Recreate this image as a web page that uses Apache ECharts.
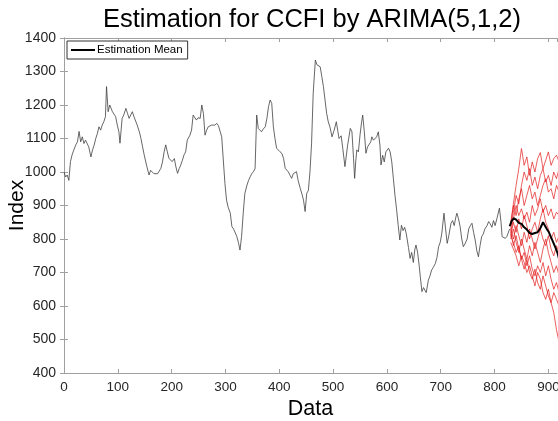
<!DOCTYPE html>
<html>
<head>
<meta charset="utf-8">
<script src="https://cdn.jsdelivr.net/npm/echarts@6/dist/echarts.min.js"></script>
<style>
  html, body { margin: 0; padding: 0; background: #fff; }
  #chart { width: 558px; height: 421px; }
</style>
</head>
<body>
<div id="chart"></div>
<script>
// observed CCFI (day, index)
const obsDay = [0, 3, 6, 9, 12, 15, 18, 22, 25, 28, 31, 34, 37, 40, 43, 46, 50, 53, 56, 59,
  62, 65, 68, 71, 74, 77, 79, 82, 85, 87, 90, 93, 96, 99, 102, 104, 108, 111, 115, 118,
  121, 124, 127, 130, 133, 136, 140, 143, 146, 149, 152, 154, 158, 161, 164, 167, 170, 174, 177, 180,
  183, 186, 189, 192, 195, 198, 201, 205, 208, 211, 214, 217, 220, 223, 226, 229, 231, 234, 237, 240,
  243, 246, 249, 253, 256, 259, 262, 265, 268, 271, 274, 277, 280, 284, 287, 290, 293, 296, 299, 302,
  305, 309, 312, 315, 318, 321, 324, 327, 330, 333, 336, 340, 343, 346, 349, 352, 355, 358, 361, 364,
  367, 370, 374, 377, 380, 383, 386, 389, 392, 395, 398, 401, 405, 408, 411, 414, 417, 420, 423, 426,
  429, 432, 435, 439, 442, 445, 448, 451, 454, 457, 460, 463, 467, 470, 473, 476, 479, 482, 485, 488,
  491, 494, 498, 502, 506, 509, 511, 515, 518, 522, 527, 532, 535, 538, 540, 542, 544, 547, 550, 553,
  555, 558, 561, 564, 567, 570, 572, 575, 578, 581, 584, 587, 589, 592, 595, 598, 601, 603, 606, 609,
  612, 615, 618, 621, 624, 627, 630, 633, 636, 640, 643, 646, 649, 652, 654, 657, 660, 662, 665, 668,
  671, 673, 677, 680, 683, 686, 690, 693, 696, 699, 702, 706, 709, 712, 715, 719, 722, 725, 728, 730,
  733, 736, 739, 742, 745, 749, 752, 755, 758, 761, 764, 767, 770, 773, 776, 779, 782, 786, 789, 792,
  795, 798, 801, 805, 809, 812, 814, 817, 820, 823, 826, 828];
const obsIndex = [1000, 985, 991, 975, 1031, 1051, 1065, 1081, 1090, 1121, 1090, 1105, 1085, 1095, 1100, 1075, 1045, 1066, 1080, 1100,
  1115, 1135, 1125, 1140, 1150, 1165, 1255, 1180, 1200, 1195, 1180, 1185, 1165, 1140, 1120, 1086, 1160, 1170, 1190, 1175,
  1160, 1170, 1180, 1165, 1170, 1140, 1120, 1100, 1075, 1051, 1030, 1016, 991, 1005, 1000, 995, 991, 995, 1000, 1011,
  1030, 1060, 1081, 1060, 1041, 1045, 1031, 1040, 1015, 996, 1010, 1021, 1035, 1051, 1060, 1095, 1096, 1110, 1125, 1170,
  1165, 1155, 1162, 1160, 1200, 1175, 1110, 1125, 1135, 1130, 1140, 1135, 1140, 1145, 1138, 1135, 1105, 1036, 966, 916,
  895, 877, 837, 830, 827, 808, 790, 767, 808, 877, 936, 961, 975, 986, 995, 1001, 1010, 1170, 1130, 1125,
  1120, 1128, 1135, 1160, 1195, 1215, 1205, 1135, 1100, 1071, 1075, 1061, 1055, 1040, 1011, 1015, 1000, 990, 981, 995,
  990, 1001, 975, 951, 935, 916, 882, 936, 945, 1000, 1086, 1235, 1334, 1320, 1322, 1314, 1285, 1255, 1215, 1175,
  1150, 1135, 1105, 1125, 1150, 1120, 1100, 1108, 1070, 1016, 1080, 1130, 1120, 1040, 981, 1030, 1066, 1060, 1110, 1150,
  1170, 1120, 1056, 1075, 1070, 1090, 1105, 1095, 1090, 1105, 1120, 1080, 1021, 1050, 1030, 1060, 1065, 1071, 1060, 1030,
  980, 930, 887, 840, 797, 841, 825, 835, 815, 775, 742, 760, 730, 770, 782, 760, 720, 688, 643, 655,
  660, 640, 677, 690, 707, 715, 727, 745, 777, 790, 817, 877, 830, 787, 810, 847, 855, 840, 865, 877,
  860, 837, 800, 777, 785, 800, 830, 840, 847, 820, 797, 765, 747, 780, 807, 815, 830, 840, 852, 845,
  835, 855, 840, 865, 892, 850, 807, 805, 802, 808, 807, 830];

// estimation mean
const meanDay = [828, 832, 836, 840, 845, 850, 855, 860, 865, 870, 875, 880, 885, 890, 893, 897, 901, 905, 909, 913, 917, 920];
const meanIndex = [838, 855, 862, 858, 848, 845, 835, 828, 818, 815, 818, 820, 832, 850, 848, 830, 820, 805, 790, 775, 758, 740];

// simulated paths
const simDay = [830, 835, 840, 845, 850, 855, 860, 865, 870, 875, 880, 885, 890, 895, 900, 905, 910, 915, 920];
const simPaths = [
  [840, 905, 960, 1010, 1070, 1020, 1045, 990, 1030, 1000, 1040, 1058, 1010, 1035, 1060, 1020, 1040, 1050, 1030],
  [830, 880, 930, 905, 960, 1000, 975, 1010, 960, 985, 950, 990, 1010, 970, 990, 960, 1000, 980, 1010],
  [850, 900, 870, 920, 950, 900, 930, 960, 920, 940, 900, 930, 960, 980, 940, 950, 920, 960, 940],
  [820, 860, 900, 870, 890, 860, 880, 850, 900, 870, 890, 920, 880, 900, 870, 890, 860, 880, 870],
  [810, 850, 820, 860, 830, 870, 840, 800, 830, 850, 820, 860, 890, 850, 830, 800, 820, 790, 810],
  [830, 800, 840, 810, 780, 820, 790, 830, 800, 770, 800, 830, 800, 780, 810, 770, 750, 780, 760],
  [800, 830, 790, 760, 800, 770, 740, 780, 750, 790, 760, 730, 770, 800, 760, 730, 700, 720, 690],
  [820, 780, 810, 770, 740, 760, 720, 750, 710, 690, 720, 700, 730, 690, 720, 680, 650, 670, 640],
  [810, 790, 760, 780, 740, 710, 740, 700, 680, 710, 670, 650, 690, 660, 630, 610, 640, 620, 600],
  [790, 770, 750, 720, 750, 730, 700, 720, 690, 660, 700, 680, 640, 620, 650, 610, 580, 530, 490]
];

const chart = echarts.init(document.getElementById('chart'));

const pairs = (xs, ys) => xs.map((x, i) => [x, ys[i]]);
const fontFam = 'Liberation Sans, Arial, sans-serif';

const series = [{
  type: 'line',
  name: 'Observed',
  data: pairs(obsDay, obsIndex),
  symbol: 'none',
  lineStyle: { color: '#404040', width: 0.8 },
  z: 2
}];
simPaths.forEach((p, k) => {
  series.push({
    type: 'line',
    name: 'sim' + k,
    data: pairs(simDay, p),
    symbol: 'none',
    lineStyle: { color: '#e31a1a', width: 0.7 },
    z: 3
  });
});
series.push({
  type: 'line',
  name: 'Estimation Mean',
  data: pairs(meanDay, meanIndex),
  symbol: 'none',
  lineStyle: { color: '#000', width: 2 },
  itemStyle: { color: '#000' },
  z: 5
});

const axisCommon = {
  axisLine: { show: true, lineStyle: { color: '#a0a0a0', width: 1 } },
  axisTick: { show: true, inside: true, length: 4, lineStyle: { color: '#a0a0a0' } },
  splitLine: { show: false }
};

const option = {
  animation: false,
  backgroundColor: '#fff',
  title: {
    text: 'Estimation for CCFI by ARIMA(5,1,2)',
    left: 307,
    textAlign: 'center',
    top: 2,
    textStyle: { fontFamily: fontFam, fontSize: 25.5, fontWeight: 'normal', color: '#000' }
  },
  legend: {
    data: [{ name: 'Estimation Mean', icon: 'rect' }],
    left: 67,
    top: 41,
    orient: 'vertical',
    padding: [3, 5, 3, 4],
    itemWidth: 24,
    itemHeight: 2,
    itemGap: 2,
    borderColor: '#333',
    borderWidth: 1,
    borderRadius: 0,
    backgroundColor: '#fff',
    textStyle: { fontFamily: fontFam, fontSize: 11.5, color: '#000', padding: [0, 0, 0, -3] }
  },
  grid: { left: 64, right: 1, top: 38, bottom: 48, outerBoundsMode: 'none', containLabel: false },
  xAxis: [{
    type: 'value',
    min: 0,
    max: 916,
    interval: 100,
    name: 'Data',
    nameLocation: 'middle',
    nameGap: 25,
    nameMoveOverlap: false,
    nameTextStyle: { fontFamily: fontFam, fontSize: 21.5, color: '#000' },
    axisLabel: { fontFamily: fontFam, fontSize: 13.5, color: '#262626', margin: 7, showMaxLabel: false, formatter: v => String(v) },
    ...axisCommon
  }, {
    type: 'value',
    position: 'top',
    min: 0,
    max: 916,
    interval: 100,
    axisLabel: { show: false },
    ...axisCommon
  }],
  yAxis: [{
    type: 'value',
    min: 400,
    max: 1400,
    interval: 100,
    name: 'Index',
    nameLocation: 'middle',
    nameGap: 36,
    nameMoveOverlap: false,
    nameTextStyle: { fontFamily: fontFam, fontSize: 21, color: '#000' },
    axisLabel: { fontFamily: fontFam, fontSize: 14, color: '#262626', margin: 8, formatter: v => String(v) },
    ...axisCommon
  }, {
    type: 'value',
    position: 'right',
    min: 400,
    max: 1400,
    interval: 100,
    axisLabel: { show: false },
    ...axisCommon
  }],
  series: series
};

chart.setOption(option);
</script>
</body>
</html>
